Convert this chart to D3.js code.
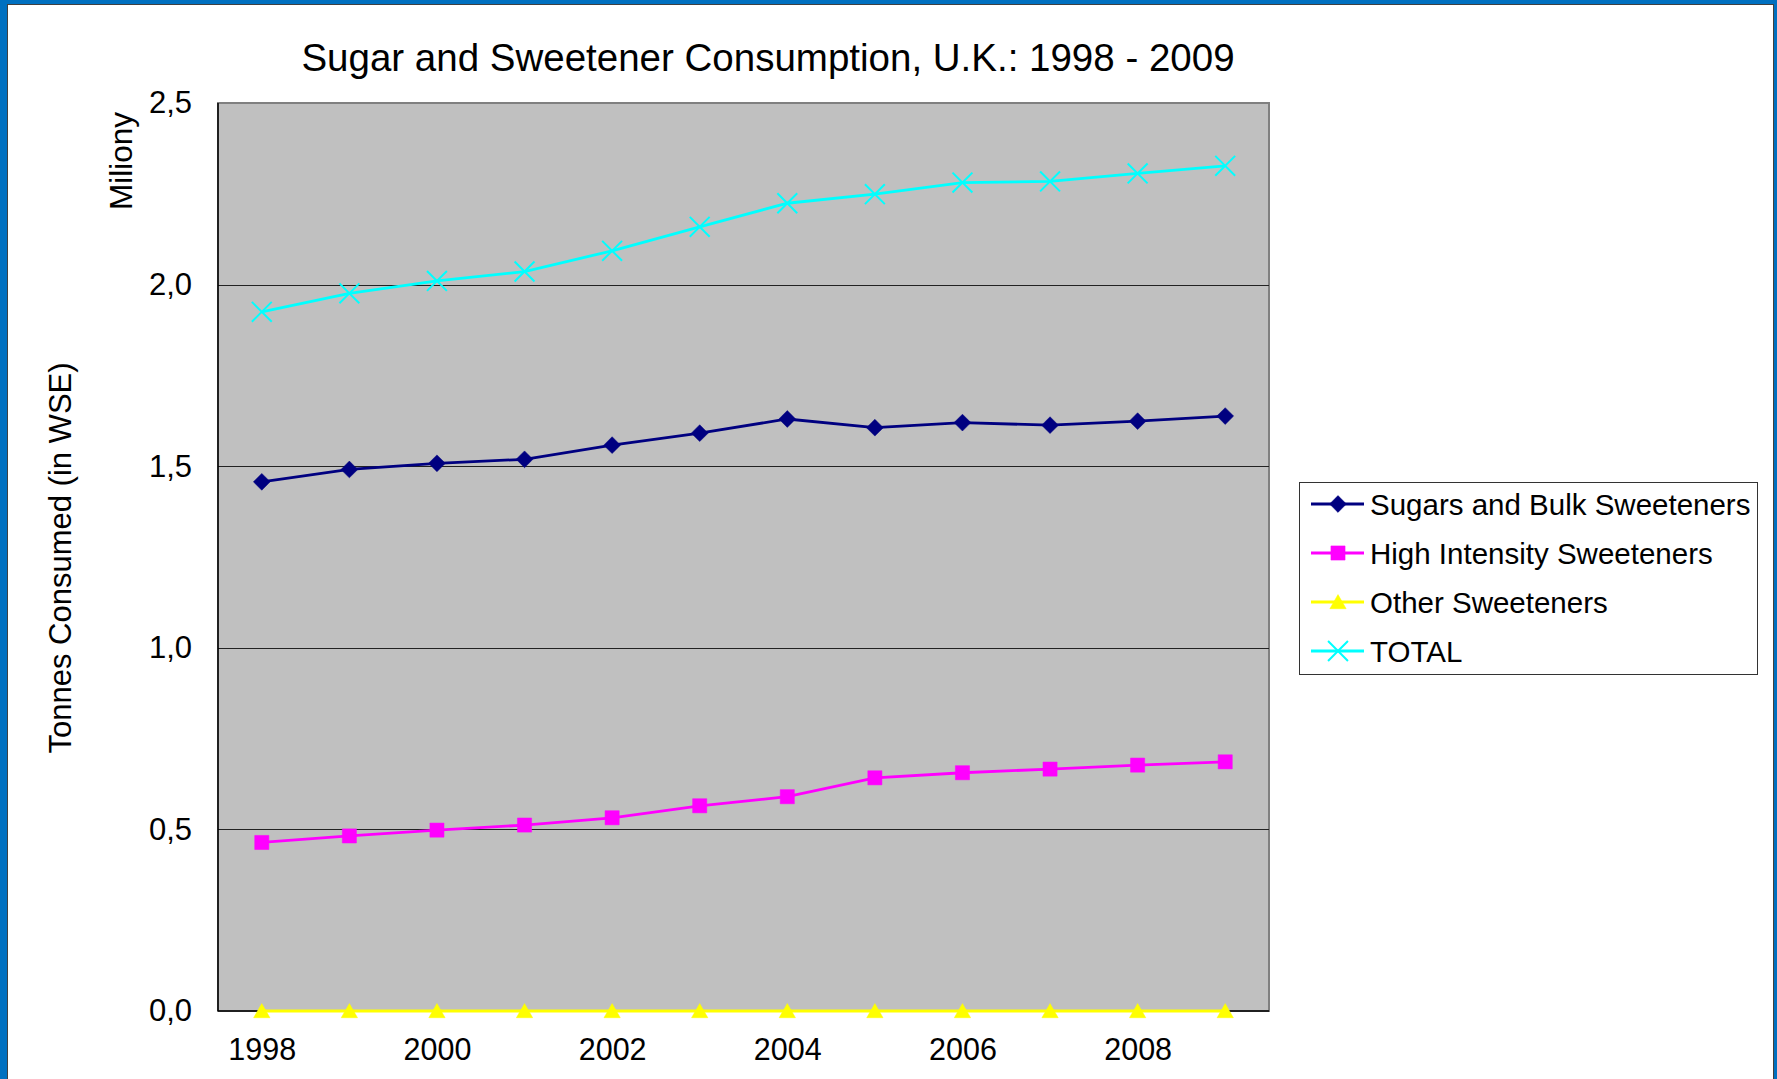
<!DOCTYPE html>
<html>
<head>
<meta charset="utf-8" />
<title>Sugar and Sweetener Consumption</title>
<style>
  body { margin: 0; background: #fff; }
  text { font-family: "Liberation Sans", Arial, sans-serif; fill: #000; }
</style>
</head>
<body>
<svg id="chart" width="1777" height="1079"></svg>
<script src="https://d3js.org/d3.v7.min.js"></script>
<script>
// values in millions of tonnes (WSE)
var years = [1998, 1999, 2000, 2001, 2002, 2003, 2004, 2005, 2006, 2007, 2008, 2009];
var sugarsBulk = [1.457, 1.491, 1.508, 1.519, 1.558, 1.591, 1.630, 1.606, 1.620, 1.613, 1.624, 1.638];
var highIntensity = [0.464, 0.482, 0.498, 0.512, 0.532, 0.565, 0.590, 0.642, 0.656, 0.666, 0.677, 0.686];
var otherSweet = [0, 0, 0, 0, 0, 0, 0, 0, 0, 0, 0, 0];
var total = [1.925, 1.976, 2.010, 2.036, 2.093, 2.159, 2.224, 2.249, 2.281, 2.284, 2.306, 2.327];
var yTicks = [0, 0.5, 1.0, 1.5, 2.0, 2.5];
var xTicks = [1998, 2000, 2002, 2004, 2006, 2008];

var series = [
  {name: "Sugars and Bulk Sweeteners", values: sugarsBulk, color: "#000080", symbol: d3.symbolDiamond2, size: 180, fill: true},
  {name: "High Intensity Sweeteners", values: highIntensity, color: "#FF00FF", symbol: d3.symbolSquare, size: 200, fill: true},
  {name: "Other Sweeteners", values: otherSweet, color: "#FFFF00", symbol: d3.symbolTriangle, size: 115, fill: true},
  {name: "TOTAL", values: total, color: "#00FFFF", symbol: d3.symbolTimes, size: 260, fill: false}
];

var svg = d3.select("#chart");
var plot = {left: 218, right: 1269, top: 103, bottom: 1011};

// outer frame
svg.append("rect").attr("x", 0).attr("y", 0).attr("width", 1777).attr("height", 1079).attr("fill", "#0070C0");
svg.append("rect").attr("x", 7.5).attr("y", 4.5).attr("width", 1766).attr("height", 1100)
  .attr("fill", "#fff").attr("stroke", "#404040").attr("stroke-width", 1);

var x = d3.scalePoint().domain(years).range([plot.left, plot.right]).padding(0.5);
var y = d3.scaleLinear().domain([0, 2.5]).range([plot.bottom, plot.top]);

svg.append("rect")
  .attr("x", plot.left).attr("y", plot.top)
  .attr("width", plot.right - plot.left).attr("height", plot.bottom - plot.top)
  .attr("fill", "#C0C0C0").attr("stroke", "#808080").attr("stroke-width", 2);

// gridlines
svg.append("g").selectAll("line")
  .data(yTicks.filter(function(d){ return d > 0 && d < 2.5; }))
  .enter().append("line")
  .attr("x1", plot.left).attr("x2", plot.right)
  .attr("y1", function(d){ return Math.round(y(d)) + 0.5; })
  .attr("y2", function(d){ return Math.round(y(d)) + 0.5; })
  .attr("stroke", "#222").attr("stroke-width", 1.2);

// axis lines
svg.append("line").attr("x1", plot.left).attr("x2", plot.left).attr("y1", plot.top).attr("y2", plot.bottom)
  .attr("stroke", "#000").attr("stroke-width", 1.5);
svg.append("line").attr("x1", plot.left).attr("x2", plot.right).attr("y1", plot.bottom).attr("y2", plot.bottom)
  .attr("stroke", "#000").attr("stroke-width", 1.5);

var fmt = function(d){ return d3.format(".1f")(d).replace(".", ","); };

var yAxis = svg.append("g")
  .attr("transform", "translate(" + (plot.left - 26) + ",0)")
  .call(d3.axisLeft(y).tickValues(yTicks).tickFormat(fmt).tickSize(0).tickPadding(0));
yAxis.select(".domain").remove();
yAxis.selectAll("text").attr("font-size", 31).attr("font-family", "Liberation Sans, Arial, sans-serif").attr("fill", "#000");

var xAxis = svg.append("g")
  .attr("transform", "translate(0," + (plot.bottom + 27) + ")")
  .call(d3.axisBottom(x).tickValues(xTicks).tickSize(0).tickPadding(0));
xAxis.select(".domain").remove();
xAxis.selectAll("text").attr("font-size", 30.5).attr("font-family", "Liberation Sans, Arial, sans-serif").attr("fill", "#000")
  .attr("dy", "0.72em");

// lines and markers
var line = d3.line()
  .x(function(d, i){ return x(years[i]); })
  .y(function(d){ return y(d); });

series.forEach(function(s) {
  svg.append("path")
    .attr("d", line(s.values))
    .attr("fill", "none")
    .attr("stroke", s.color)
    .attr("stroke-width", 2.8);
  var sym = d3.symbol().type(s.symbol).size(s.size);
  // triangles sit a little lower so their box is centred on the value
  var dy = s.symbol === d3.symbolTriangle ? 2 : 0;
  svg.append("g").selectAll("path")
    .data(s.values)
    .enter().append("path")
    .attr("transform", function(d, i){ return "translate(" + x(years[i]) + "," + (y(d) + dy) + ")"; })
    .attr("d", sym)
    .attr("fill", s.fill ? s.color : "none")
    .attr("stroke", s.color)
    .attr("stroke-width", s.fill ? 0.5 : 2);
});

// titles
svg.append("text")
  .attr("x", 768).attr("y", 71)
  .attr("text-anchor", "middle")
  .attr("font-size", 38.5)
  .text("Sugar and Sweetener Consumption, U.K.: 1998 - 2009");

svg.append("text")
  .attr("transform", "translate(71,558) rotate(-90)")
  .attr("text-anchor", "middle")
  .attr("font-size", 31)
  .text("Tonnes Consumed (in WSE)");

svg.append("text")
  .attr("transform", "translate(132,161) rotate(-90)")
  .attr("text-anchor", "middle")
  .attr("font-size", 31.5)
  .text("Miliony");

// legend
var legend = svg.append("g");
legend.append("rect")
  .attr("x", 1299.5).attr("y", 482.5).attr("width", 458).attr("height", 192)
  .attr("fill", "#fff").attr("stroke", "#333").attr("stroke-width", 1);

var item = legend.selectAll(".item")
  .data(series)
  .enter().append("g")
  .attr("class", "item")
  .attr("transform", function(d, i){ return "translate(0," + (504 + i * 49) + ")"; });

item.append("line")
  .attr("x1", 1311).attr("x2", 1364)
  .attr("stroke", function(d){ return d.color; })
  .attr("stroke-width", 2.8);
item.append("path")
  .attr("transform", function(d){ return "translate(1338," + (d.symbol === d3.symbolTriangle ? 2 : 0) + ")"; })
  .attr("d", function(d){ return d3.symbol().type(d.symbol).size(d.size)(); })
  .attr("fill", function(d){ return d.fill ? d.color : "none"; })
  .attr("stroke", function(d){ return d.color; })
  .attr("stroke-width", function(d){ return d.fill ? 0.5 : 2; });
item.append("text")
  .attr("x", 1370).attr("y", 0)
  .attr("dy", "0.36em")
  .attr("font-size", 29.5)
  .text(function(d){ return d.name; });
</script>
</body>
</html>
